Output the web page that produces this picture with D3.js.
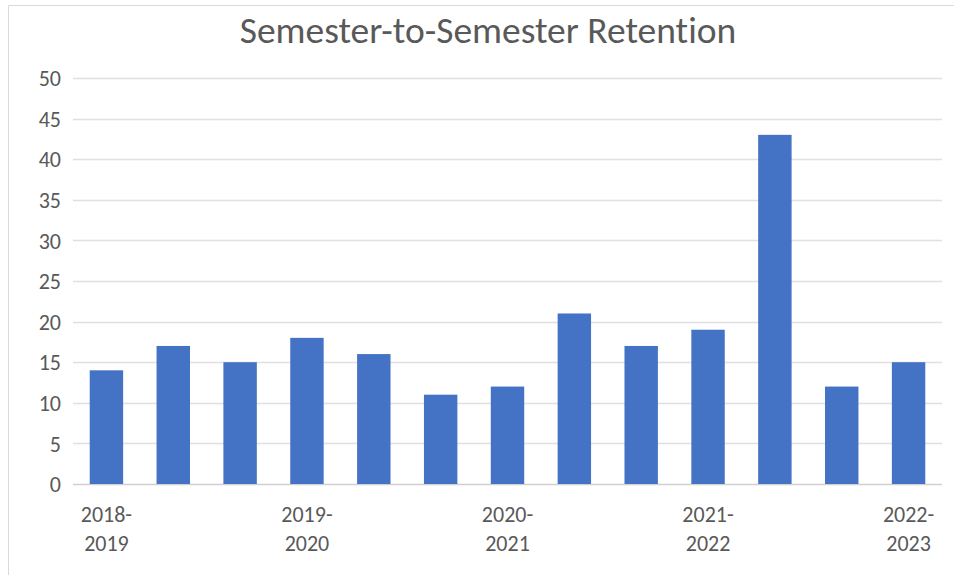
<!DOCTYPE html>
<html>
<head>
<meta charset="utf-8">
<script src="https://cdn.jsdelivr.net/npm/d3@7"></script>
<style>
  body { margin: 0; background: #fff; }
  text { font-family: Calibri, Carlito, "Open Sans", sans-serif; fill: #595959; font-variant-ligatures: none; }
</style>
</head>
<body>
<svg id="chart" width="954" height="575"></svg>
<script>
// chart data
var categories = ['2018-2019 a','2018-2019 b','2018-2019 c',
                  '2019-2020 a','2019-2020 b','2019-2020 c',
                  '2020-2021 a','2020-2021 b','2020-2021 c',
                  '2021-2022 a','2021-2022 b','2021-2022 c',
                  '2022-2023 a'];
var values = [14, 17, 15, 18, 16, 11, 12, 21, 17, 19, 43, 12, 15];
var yTicks = [0, 5, 10, 15, 20, 25, 30, 35, 40, 45, 50];
// only every third category gets a label, like the original
var xLabels = {
  '2018-2019 a': ['2018-', '2019'],
  '2019-2020 a': ['2019-', '2020'],
  '2020-2021 a': ['2020-', '2021'],
  '2021-2022 a': ['2021-', '2022'],
  '2022-2023 a': ['2022-', '2023']
};
var title = 'Semester-to-Semester Retention';

var svg = d3.select('#chart');
var mLeft = 73, mRight = 942, mTop = 78, mBottom = 484;

// chart frame
svg.append('path')
   .attr('d', 'M8.5,575 V5.5 H954')
   .attr('fill', 'none')
   .attr('stroke', '#d9d9d9')
   .attr('stroke-width', 1);

var x = d3.scaleBand().domain(categories).range([mLeft, mRight]).paddingInner(0.5).paddingOuter(0.25);
var y = d3.scaleLinear().domain([0, 50]).range([mBottom, mTop]);

// gridlines
svg.append('g').selectAll('line')
   .data(yTicks)
   .enter()
   .append('line')
   .attr('x1', mLeft).attr('x2', mRight)
   .attr('y1', function(d){ return Math.round(y(d)) + 0.5; })
   .attr('y2', function(d){ return Math.round(y(d)) + 0.5; })
   .attr('stroke', function(d){ return d == 0 ? '#d0d0d0' : '#e0e0e0'; })
   .attr('stroke-width', 1.5);

// y axis labels
var yAxis = d3.axisLeft(y).tickValues(yTicks).tickSize(0).tickPadding(0);
var gy = svg.append('g').attr('transform', 'translate(61,0)').call(yAxis);
gy.select('.domain').remove();
gy.selectAll('text')
  .style('font-size', '22px')
  .style('font-family', 'Calibri, Carlito, sans-serif')
  .attr('fill', '#595959')
  .attr('dy', '0.35em');

// bars
svg.append('g').selectAll('rect')
   .data(values)
   .enter()
   .append('rect')
   .attr('x', function(d,i){ return x(categories[i]); })
   .attr('width', x.bandwidth())
   .attr('y', function(d){ return y(d); })
   .attr('height', function(d){ return y(0) - y(d); })
   .attr('fill', '#4472c4');

// category labels
var lab = svg.append('g').selectAll('text')
   .data(categories.filter(function(c){ return xLabels[c]; }))
   .enter()
   .append('text')
   .attr('text-anchor', 'middle')
   .style('font-size', '22px')
   .attr('transform', function(c){ return 'translate(' + (x(c) + x.bandwidth()/2) + ',0)'; });
lab.selectAll('tspan')
   .data(function(c){ return xLabels[c]; })
   .enter()
   .append('tspan')
   .attr('x', 0)
   .attr('y', function(d,i){ return 522 + i*29; })
   .text(function(d){ return d; });

// title
svg.append('text')
   .attr('x', 488)
   .attr('y', 43)
   .attr('text-anchor', 'middle')
   .style('font-size', '37.5px')
   .text(title);
</script>
</body>
</html>
